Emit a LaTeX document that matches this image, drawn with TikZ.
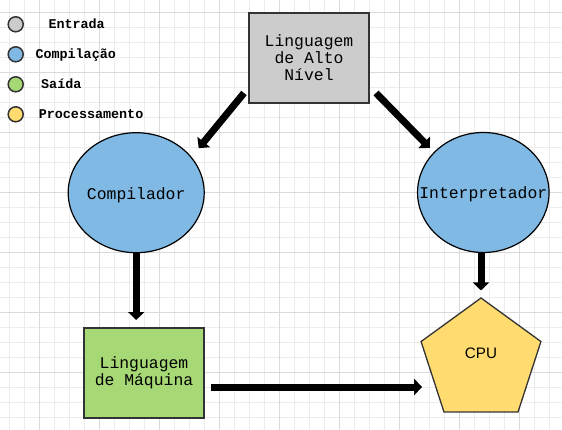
\documentclass[tikz,border=0pt]{standalone}
\usepackage{fontspec}
\setmainfont{Liberation Mono}
\newfontfamily\cpufont{Liberation Sans}
\usetikzlibrary{arrows.meta,shapes.geometric}
\definecolor{entrada}{HTML}{CCCCCC}
\definecolor{compila}{HTML}{80B9E4}
\definecolor{saida}{HTML}{A6D975}
\definecolor{proc}{HTML}{FFDB70}
\definecolor{borda}{HTML}{333333}
\definecolor{gridmenor}{HTML}{ECECEC}
\definecolor{gridmaior}{HTML}{DADADA}

\begin{document}
\begin{tikzpicture}[x=1pt,y=-1pt]
  \tikzstyle{caixa}=[rectangle, draw=borda, line width=2pt, minimum width=120pt,
                     minimum height=90pt, align=center, inner sep=0pt,
                     font=\fontsize{16.4}{17}\selectfont]
  \tikzstyle{bolha}=[ellipse, draw=black, line width=1.2pt, fill=compila,
                     minimum height=120pt, inner sep=0pt, text height=13pt, text depth=0pt,
                     font=\fontsize{16.4}{17}\selectfont]
  \tikzstyle{leg}=[circle, draw=borda, line width=1.5pt, minimum size=15pt, inner sep=0pt]
  \tikzstyle{legtxt}=[anchor=base west, inner sep=0pt,
                      font=\fontsize{13.4}{15}\selectfont\bfseries]
  \tikzstyle{seta}=[-{Triangle[width=16pt,length=8pt]}, line width=7pt, black]

  \useasboundingbox[fill=white] (0,0) rectangle (562,430);
  % grade de fundo
  \foreach \gx in {9.3,24.3,...,560} \draw[gridmenor, line width=0.9pt] (\gx,0) -- (\gx,430);
  \foreach \gy in {12.3,27.3,...,430} \draw[gridmenor, line width=0.9pt] (0,\gy) -- (562,\gy);
  \foreach \gx in {39.3,99.3,...,560} \draw[gridmaior, line width=0.9pt] (\gx,0) -- (\gx,430);
  \foreach \gy in {12.3,72.3,...,430} \draw[gridmaior, line width=0.9pt] (0,\gy) -- (562,\gy);

  % legenda
  \node[leg, fill=entrada] (L1) at (15.7,24.3)  {};
  \node[leg, fill=compila] (L2) at (15.7,54.3)  {};
  \node[leg, fill=saida]   (L3) at (15.7,84.3)  {};
  \node[leg, fill=proc]    (L4) at (15.7,114.3) {};
  \node[legtxt] (T1) at (48.3,29)  {Entrada};
  \node[legtxt] (T2) at (35.3,59)  {Compilação};
  \node[legtxt] (T3) at (41,89)    {Saída};
  \node[legtxt] (T4) at (38.6,119) {Processamento};

  \node[caixa, fill=entrada] (HL) at (309,58)  {Linguagem\\de Alto\\Nível};
  \node[bolha, minimum width=136pt] (CO) at (136.2,192.7) {\makebox[0pt]{Compilador}};
  \node[bolha, minimum width=131.5pt] (IN) at (483.3,192.5) {\makebox[0pt]{Interpretador}};
  \node[caixa, fill=saida] (LM) at (144,373) {Linguagem\\de Máquina};
  \node[regular polygon, regular polygon sides=5, minimum size=126pt, inner sep=0pt,
        draw=borda, line width=1.3pt, fill=proc,
        label={[yshift=8pt, font=\cpufont\fontsize{15.2}{17}\selectfont]center:CPU}]
        (CPU) at (481,361) {};

  \coordinate (LMsai) at ([shift={(6,14)}]LM.east);

  \path ([shift={(-4,-11)}]HL.south west) edge[seta] ([shift={(62.5,-44.5)}]CO.center)
        ([shift={(6,-11)}]HL.south east)  edge[seta] ([shift={(-53.5,-44.5)}]IN.center)
        (CO.south)                        edge[seta, shorten >=7pt] (CO.south |- LM.north)
        (CPU.north |- IN.south)           edge[seta, shorten >=6.7pt] (CPU.north)
        (LMsai)                           edge[seta, shorten >=4.6pt] (LMsai -| CPU.west);
\end{tikzpicture}
\end{document}
